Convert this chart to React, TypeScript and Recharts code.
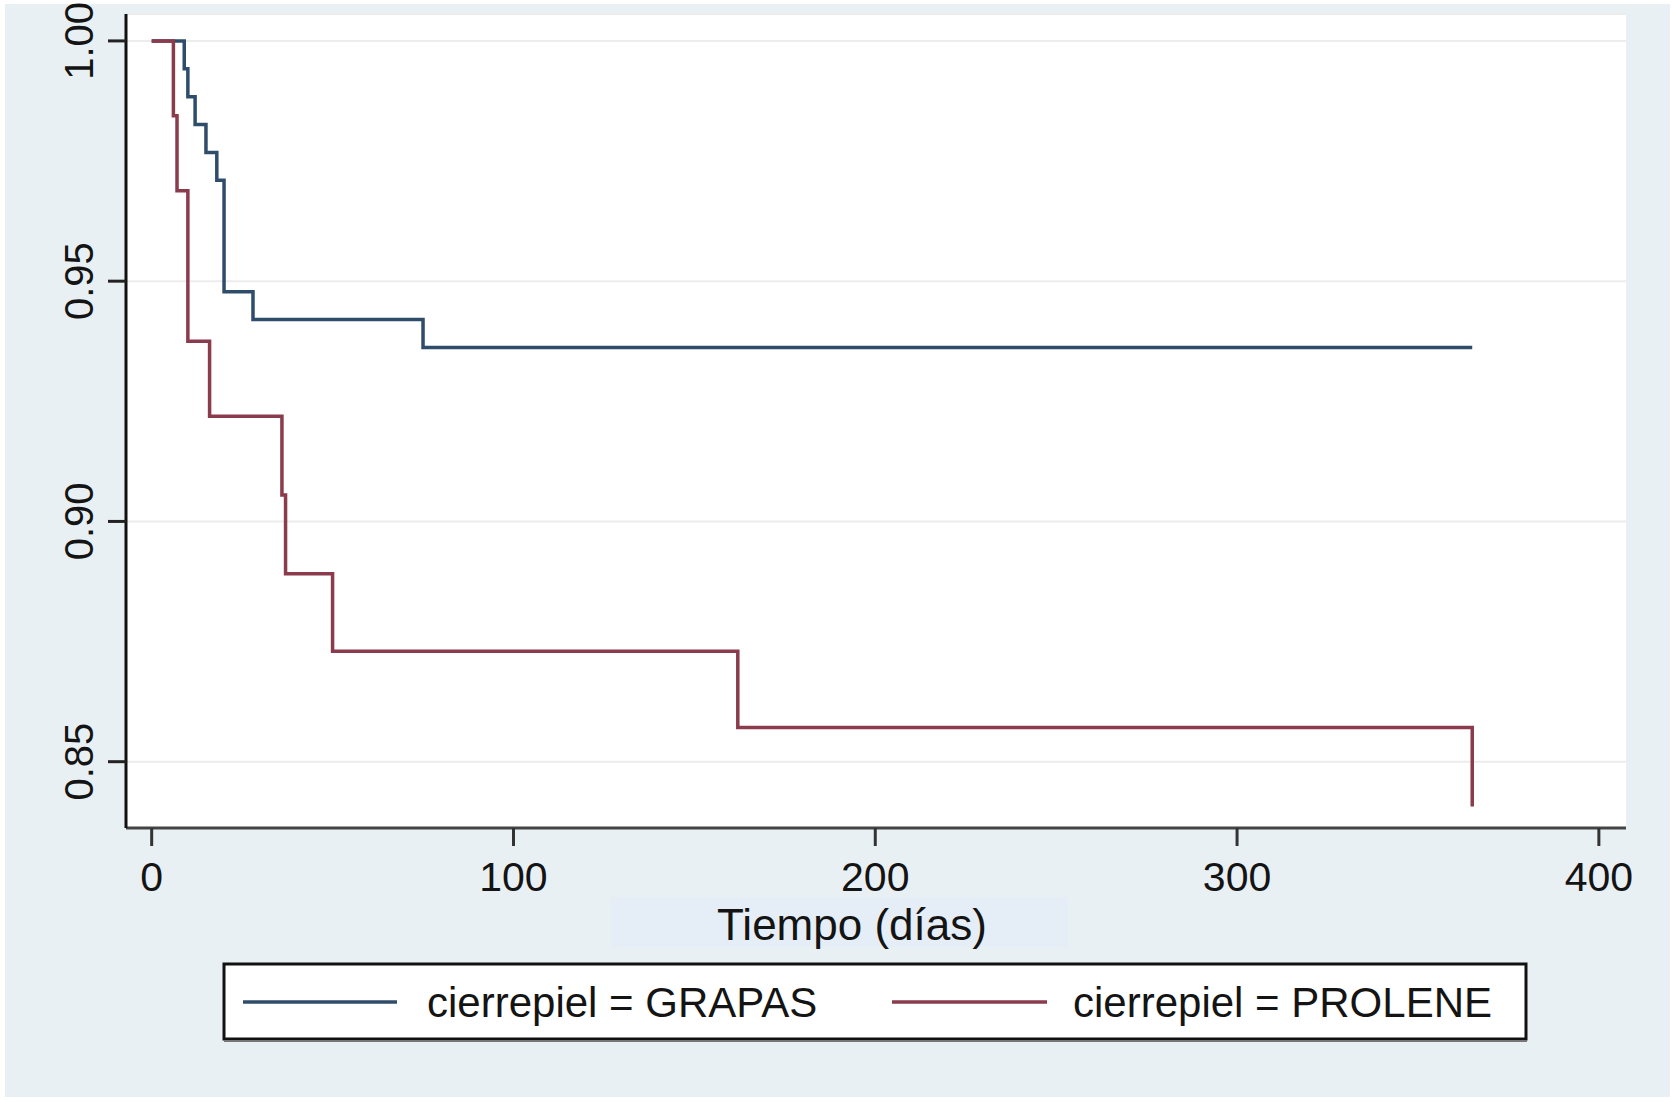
import { LineChart, Line, XAxis, YAxis, CartesianGrid } from 'recharts'

// Kaplan-Meier survival estimates (time in days)
const grapasTime = [0, 9, 10, 12, 15, 18, 20, 28, 75, 365]
const grapasSurv = [1, 0.9942, 0.9884, 0.9826, 0.9768, 0.971, 0.9478, 0.942, 0.9362, 0.9362]

const proleneTime = [0, 6, 7, 10, 16, 36, 37, 50, 162, 365]
const proleneSurv = [1, 0.9844, 0.9688, 0.9375, 0.9219, 0.9055, 0.8891, 0.873, 0.8571, 0.8407]

const xTicks = [0, 100, 200, 300, 400]
const yTicks = [0.85, 0.9, 0.95, 1.0]

const seriesNames = ['cierrepiel = GRAPAS', 'cierrepiel = PROLENE']
const seriesColors = ['#2f4d6b', '#8a3b4c']

const FONT = '"Liberation Sans", Arial, sans-serif'
const BG = '#e9f0f3'
const INK = '#141414'

const toRows = (t: number[], s: number[]) => t.map((v, i) => ({ t: v, s: s[i] }))

function XTick({ x = 0, y = 0, payload }: any) {
  return (
    <text x={x} y={y + 43} textAnchor="middle" fontSize={41} fontFamily={FONT} fill={INK}>
      {payload.value}
    </text>
  )
}

function YTick({ x = 0, y = 0, payload }: any) {
  return (
    <text
      transform={`translate(${x - 13}, ${y}) rotate(-90)`}
      textAnchor="middle"
      fontSize={40}
      fontFamily={FONT}
      fill={INK}
    >
      {Number(payload.value).toFixed(2)}
    </text>
  )
}

function XTitle() {
  return (
    <g>
      <rect x={611} y={897} width={457} height={50} fill="#e5edf6" />
      <text x={852} y={940} textAnchor="middle" fontSize={44} fontFamily={FONT} fill={INK}>
        Tiempo (días)
      </text>
    </g>
  )
}

export default function App() {
  const grapas = toRows(grapasTime, grapasSurv)
  const prolene = toRows(proleneTime, proleneSurv)

  return (
    <div style={{ position: 'absolute', left: 0, top: 0, width: 1675, height: 1102, background: '#fff' }}>
      <div style={{ position: 'absolute', left: 5, top: 4, width: 1665, height: 1093, background: BG }} />
      <div style={{ position: 'absolute', left: 0, top: 0 }}>
        <LineChart width={1675} height={1102} margin={{ top: 14, right: 49, bottom: 0, left: 0 }}>
          <CartesianGrid horizontal vertical={false} stroke="#ececec" strokeWidth={2} fill="#ffffff" />
          <XAxis
            type="number"
            dataKey="t"
            domain={[-7.1, 407.5]}
            ticks={xTicks}
            allowDataOverflow
            height={274}
            tickSize={18}
            tickLine={{ stroke: '#333', strokeWidth: 3 }}
            axisLine={{ stroke: '#444', strokeWidth: 3 }}
            tick={<XTick />}
            label={<XTitle />}
          />
          <YAxis
            type="number"
            dataKey="s"
            domain={[0.8362, 1.0056]}
            ticks={yTicks}
            allowDataOverflow
            width={126}
            tickSize={18}
            tickLine={{ stroke: '#222', strokeWidth: 3 }}
            axisLine={{ stroke: '#111', strokeWidth: 3 }}
            tick={<YTick />}
          />
          <Line
            data={grapas}
            dataKey="s"
            name={seriesNames[0]}
            type="stepAfter"
            stroke={seriesColors[0]}
            strokeWidth={3.5}
            dot={false}
            isAnimationActive={false}
          />
          <Line
            data={prolene}
            dataKey="s"
            name={seriesNames[1]}
            type="stepAfter"
            stroke={seriesColors[1]}
            strokeWidth={3.5}
            dot={false}
            isAnimationActive={false}
          />
        </LineChart>
      </div>
      <svg width={1675} height={1102} style={{ position: 'absolute', left: 0, top: 0, pointerEvents: 'none' }}>
        <rect x={224} y={964} width={1302} height={75} fill="#fff" stroke="#111" strokeWidth={3} />
        <line x1={224} y1={1041} x2={1527} y2={1041} stroke="#777" strokeWidth={2} />
        <line x1={243} y1={1002} x2={397} y2={1002} stroke={seriesColors[0]} strokeWidth={3.5} />
        <text x={427} y={1017} fontSize={42} fontFamily={FONT} fill={INK}>
          {seriesNames[0]}
        </text>
        <line x1={892} y1={1002} x2={1047} y2={1002} stroke={seriesColors[1]} strokeWidth={3.5} />
        <text x={1073} y={1017} fontSize={42} fontFamily={FONT} fill={INK}>
          {seriesNames[1]}
        </text>
      </svg>
    </div>
  )
}
